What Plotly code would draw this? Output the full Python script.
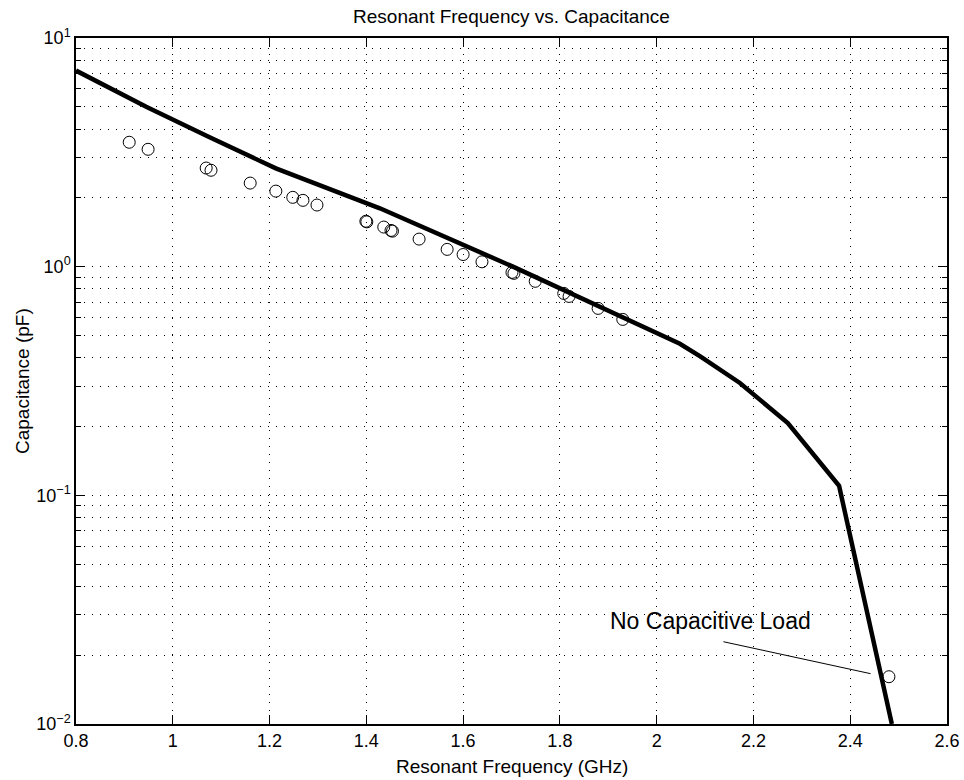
import plotly.graph_objects as go
import numpy as np

# Measured data (circles)
meas_freq = [0.910, 0.949, 1.069, 1.079, 1.160, 1.213, 1.248, 1.269, 1.298,
             1.399, 1.401, 1.436, 1.451, 1.454, 1.509, 1.567, 1.600, 1.639,
             1.701, 1.705, 1.749, 1.808, 1.819, 1.879, 1.930, 2.480]
meas_cap = [3.50, 3.26, 2.70, 2.64, 2.32, 2.14, 2.01, 1.95, 1.86,
            1.58, 1.57, 1.49, 1.44, 1.43, 1.32, 1.19, 1.13, 1.05,
            0.944, 0.935, 0.863, 0.764, 0.741, 0.657, 0.588, 0.0161]

# Theoretical curve (thick line)
theory_freq = [0.80, 0.945, 1.075, 1.213, 1.428, 1.703, 2.048, 2.090, 2.172, 2.271, 2.377, 2.486]
theory_cap = [7.20, 5.00, 3.69, 2.69, 1.80, 1.00, 0.460, 0.405, 0.310, 0.207, 0.110, 0.010]

# Annotation
note_text = "No Capacitive Load"
note_pos = (2.112, 0.0283)
leader_freq = [2.138, 2.442]
leader_cap = [0.0229, 0.0166]

x_ticks = [0.8, 1.0, 1.2, 1.4, 1.6, 1.8, 2.0, 2.2, 2.4, 2.6]
x_ticktext = ["0.8", "1", "1.2", "1.4", "1.6", "1.8", "2", "2.2", "2.4", "2.6"]
y_ticks = [0.01, 0.1, 1, 10]
y_ticktext = ["10<sup>\u22122</sup>", "10<sup>\u22121</sup>", "10<sup>0</sup>", "10<sup>1</sup>"]

FONT = "Liberation Sans, Arial, Helvetica, sans-serif"
DOT = "1px,7px"

fig = go.Figure()
fig.add_trace(go.Scatter(x=theory_freq, y=theory_cap, mode="lines",
                         line=dict(color="black", width=4.5), showlegend=False,
                         cliponaxis=True))
fig.add_trace(go.Scatter(x=meas_freq, y=meas_cap, mode="markers",
                         marker=dict(symbol="circle-open", size=12,
                                     color="black", line=dict(width=1, color="black")),
                         showlegend=False))
fig.add_trace(go.Scatter(x=leader_freq, y=leader_cap, mode="lines",
                         line=dict(color="black", width=1), showlegend=False))

fig.add_annotation(x=note_pos[0], y=np.log10(note_pos[1]), text=note_text,
                   showarrow=False, xanchor="center", yanchor="middle",
                   font=dict(family=FONT, size=23, color="black"))

# Axis titles as paper annotations
fig.add_annotation(x=0.5, y=-42 / 686, xref="paper", yref="paper",
                   text="Resonant Frequency (GHz)", showarrow=False,
                   xanchor="center", yanchor="middle",
                   font=dict(family=FONT, size=19, color="black"))
fig.add_annotation(x=-54 / 871, y=0.5, xref="paper", yref="paper",
                   text="Capacitance (pF)", showarrow=False, textangle=-90,
                   xanchor="center", yanchor="middle",
                   font=dict(family=FONT, size=19, color="black"))

fig.update_layout(
    width=964, height=780,
    margin=dict(l=76, r=17, t=38, b=56, autoexpand=False),
    paper_bgcolor="white", plot_bgcolor="white",
    font=dict(family=FONT, color="black", size=18),
    title=dict(text="Resonant Frequency vs. Capacitance", x=0.5, xanchor="center",
               xref="paper", yref="container", y=1 - 16 / 780, yanchor="middle",
               font=dict(family=FONT, size=19, color="black")),
)

fig.update_xaxes(
    range=[0.8, 2.6], tickvals=x_ticks, ticktext=x_ticktext, automargin=False,
    showline=True, linecolor="black", linewidth=1.5, mirror="ticks",
    ticks="inside", ticklen=9, tickcolor="black", tickwidth=1,
    showgrid=True, gridcolor="black", gridwidth=1, griddash=DOT,
    zeroline=False, tickfont=dict(size=18),
)
fig.update_yaxes(
    type="log", range=[-2, 1], tickvals=y_ticks, ticktext=y_ticktext, automargin=False,
    showline=True, linecolor="black", linewidth=1.5, mirror="ticks",
    ticks="inside", ticklen=9, tickcolor="black", tickwidth=1,
    showgrid=True, gridcolor="black", gridwidth=1, griddash=DOT,
    zeroline=False, tickfont=dict(size=18),
    minor=dict(dtick="D1", ticks="inside", ticklen=5, tickcolor="black",
               showgrid=True, gridcolor="black", gridwidth=1, griddash=DOT),
)

fig.write_html("out.html")
